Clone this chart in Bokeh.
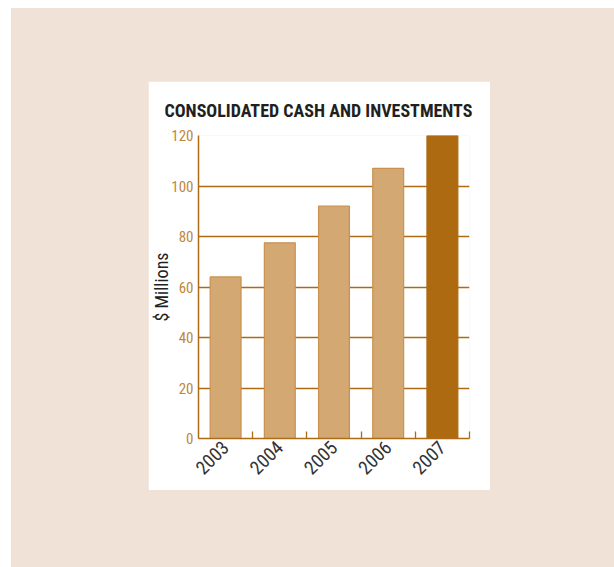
from bokeh.plotting import figure
from bokeh.layouts import column
from bokeh.models import ColumnDataSource, FixedTicker, Range1d, Title
from bokeh.embed import file_html
from bokeh.resources import INLINE
import math

years = ["2003", "2004", "2005", "2006", "2007"]
values = [64, 77.5, 92, 107, 120]
bar_colors = ["#d4a873", "#d4a873", "#d4a873", "#d4a873", "#ad6a10"]
line_colors = ["#c8914f", "#c8914f", "#c8914f", "#c8914f", "#ad6a10"]
y_ticks = [0, 20, 40, 60, 80, 100, 120]

FONT = "'Liberation Sans Narrow', 'Roboto Condensed', 'Arial Narrow', Roboto, sans-serif"
BROWN = "#ad6c14"

xs = [i + 0.5 for i in range(len(years))]
src = ColumnDataSource(dict(x=xs, top=values, fill=bar_colors, line=line_colors))

p = figure(width=342, height=409, output_backend="svg", toolbar_location=None,
           x_range=Range1d(0, 5), y_range=Range1d(0, 120))
p.min_border_left = 49
p.min_border_right = 21
p.min_border_top = 54
p.min_border_bottom = 52
p.border_fill_color = "white"
p.background_fill_color = "white"
p.outline_line_color = None

t = Title(text="CONSOLIDATED CASH AND INVESTMENTS", align="left", offset=-34,
          text_font=FONT, text_font_size="18px", text_font_style="bold",
          text_color="#231f20", standoff=29)
p.add_layout(t, "above")

p.vbar(x="x", top="top", width=0.57, bottom=0, source=src,
       fill_color="fill", line_color="line", line_width=1.2)

p.xgrid.visible = False
p.ygrid.ticker = FixedTicker(ticks=y_ticks)
p.ygrid.grid_line_color = BROWN
p.ygrid.grid_line_width = 1.3

xa = p.xaxis[0]
xa.ticker = FixedTicker(ticks=xs, minor_ticks=[1, 2, 3, 4, 5])
xa.major_label_overrides = {x: y for x, y in zip(xs, years)}
xa.major_label_orientation = math.pi / 4
xa.major_tick_line_color = None
xa.major_tick_out = 0
xa.major_tick_in = 0
xa.minor_tick_line_color = BROWN
xa.minor_tick_in = 7
xa.minor_tick_out = 0
xa.minor_tick_line_width = 1.3
xa.axis_line_color = BROWN
xa.axis_line_width = 1.5
xa.major_label_text_font = FONT
xa.major_label_text_font_size = "19px"
xa.major_label_text_color = "#333333"
xa.major_label_standoff = 6

ya = p.yaxis[0]
ya.ticker = FixedTicker(ticks=y_ticks)
ya.major_tick_line_color = None
ya.major_tick_out = 0
ya.major_tick_in = 0
ya.minor_tick_line_color = None
ya.minor_tick_out = 0
ya.axis_line_color = BROWN
ya.axis_line_width = 1.5
ya.major_label_text_font = FONT
ya.major_label_text_font_size = "15px"
ya.major_label_text_color = "#c0873c"
ya.major_label_standoff = 5
ya.axis_label = "$ Millions"
ya.axis_label_text_font = FONT
ya.axis_label_text_font_size = "18px"
ya.axis_label_text_font_style = "normal"
ya.axis_label_text_color = "#222222"
ya.axis_label_standoff = -4

layout = column(p, styles={"background-color": "#f0e2d6",
                           "padding": "73px 124px 77px 137px"},
                margin=(8, 0, 0, 11))

html = file_html(layout, INLINE)
html = html.replace("<body>", "<body style=\"margin:0;background:white;\">")
open("out.html", "w").write(html)
